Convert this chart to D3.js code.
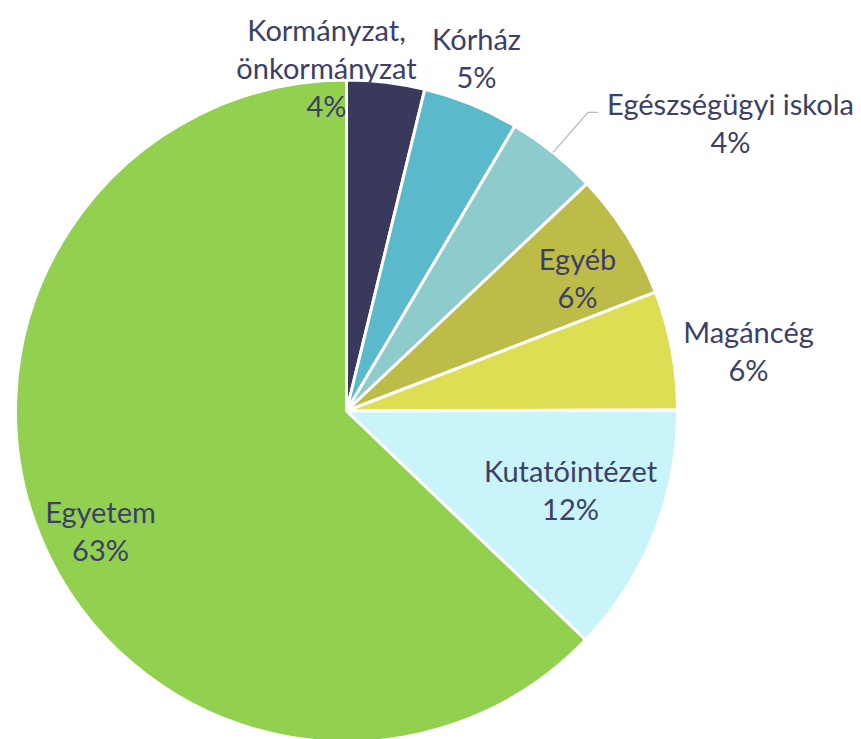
<!DOCTYPE html>
<html>
<head>
<meta charset="utf-8">
<script src="https://cdn.jsdelivr.net/npm/d3@7"></script>
<style>
  body { margin: 0; background: #fff; }
  svg { display: block; }
  .lbl { font-family: Lato, "Open Sans", sans-serif; font-size: 29px; fill: #3d4066; }
</style>
</head>
<body>
<svg id="chart" width="861" height="739"></svg>
<script>
// data
const categories = ['Kormányzat, önkormányzat', 'Kórház', 'Egészségügyi iskola', 'Egyéb', 'Magáncég', 'Kutatóintézet', 'Egyetem'];
const shares = [3.8, 4.7, 4.45, 6.2, 5.8, 12.2, 62.85];
const colors = ['#38395b', '#5ab9cb', '#8ecbcd', '#bdbc48', '#dede55', '#c8f4fa', '#92d050'];

// label lines per slice (category text split for wrapping)
const labelLines = [['Kormányzat,', 'önkormányzat'], ['Kórház'], ['Egészségügyi iskola'], ['Egyéb'], ['Magáncég'], ['Kutatóintézet'], ['Egyetem']];

// where each label block sits, relative to the pie centre (first baseline)
const labelLayout = [
    {x: -20, y: -370},
    {x: 130, y: -361},
    {x: 384, y: -296},
    {x: 231, y: -141},
    {x: 402, y: -68},
    {x: 224, y: 71},
    {x: -246, y: 112}
];

const width = 861, height = 739;
const cx = 346.5, cy = 411, radius = 331;
const lineH = 38;

const svg = d3.select('#chart');
const g = svg.append('g').attr('transform', `translate(${cx},${cy})`);

const pie = d3.pie().sort(null).value(d => d);
const arc = d3.arc().innerRadius(0).outerRadius(radius);
const arcs = pie(shares);

g.selectAll('path.slice')
    .data(arcs)
    .join('path')
    .attr('class', 'slice')
    .attr('d', arc)
    .attr('fill', (d, i) => colors[i])
    .attr('stroke', '#fff')
    .attr('stroke-width', 3)
    .attr('stroke-linejoin', 'round');

// leader line for the small Egészségügyi iskola slice
const leadArc = d3.arc().innerRadius(radius).outerRadius(radius);
const p0 = leadArc.centroid(arcs[2]);
const elbow = [p0[0] + 35, p0[1] - 40];
g.append('path')
    .attr('d', d3.line()([p0, elbow, [elbow[0] + 10, elbow[1]]]))
    .attr('fill', 'none')
    .attr('stroke', '#b4b8d0')
    .attr('stroke-width', 1.3);

const labels = g.selectAll('text.lbl')
    .data(arcs)
    .join('text')
    .attr('class', 'lbl')
    .attr('text-anchor', 'middle')
    .attr('transform', (d, i) => `translate(${labelLayout[i].x},${labelLayout[i].y})`);

labels.each(function (d, i) {
    const t = d3.select(this);
    const lines = labelLines[i].concat([Math.round(shares[i]) + '%']);
    lines.forEach((s, k) => {
        t.append('tspan').attr('x', 0).attr('y', k * lineH).text(s);
    });
});
</script>
</body>
</html>
